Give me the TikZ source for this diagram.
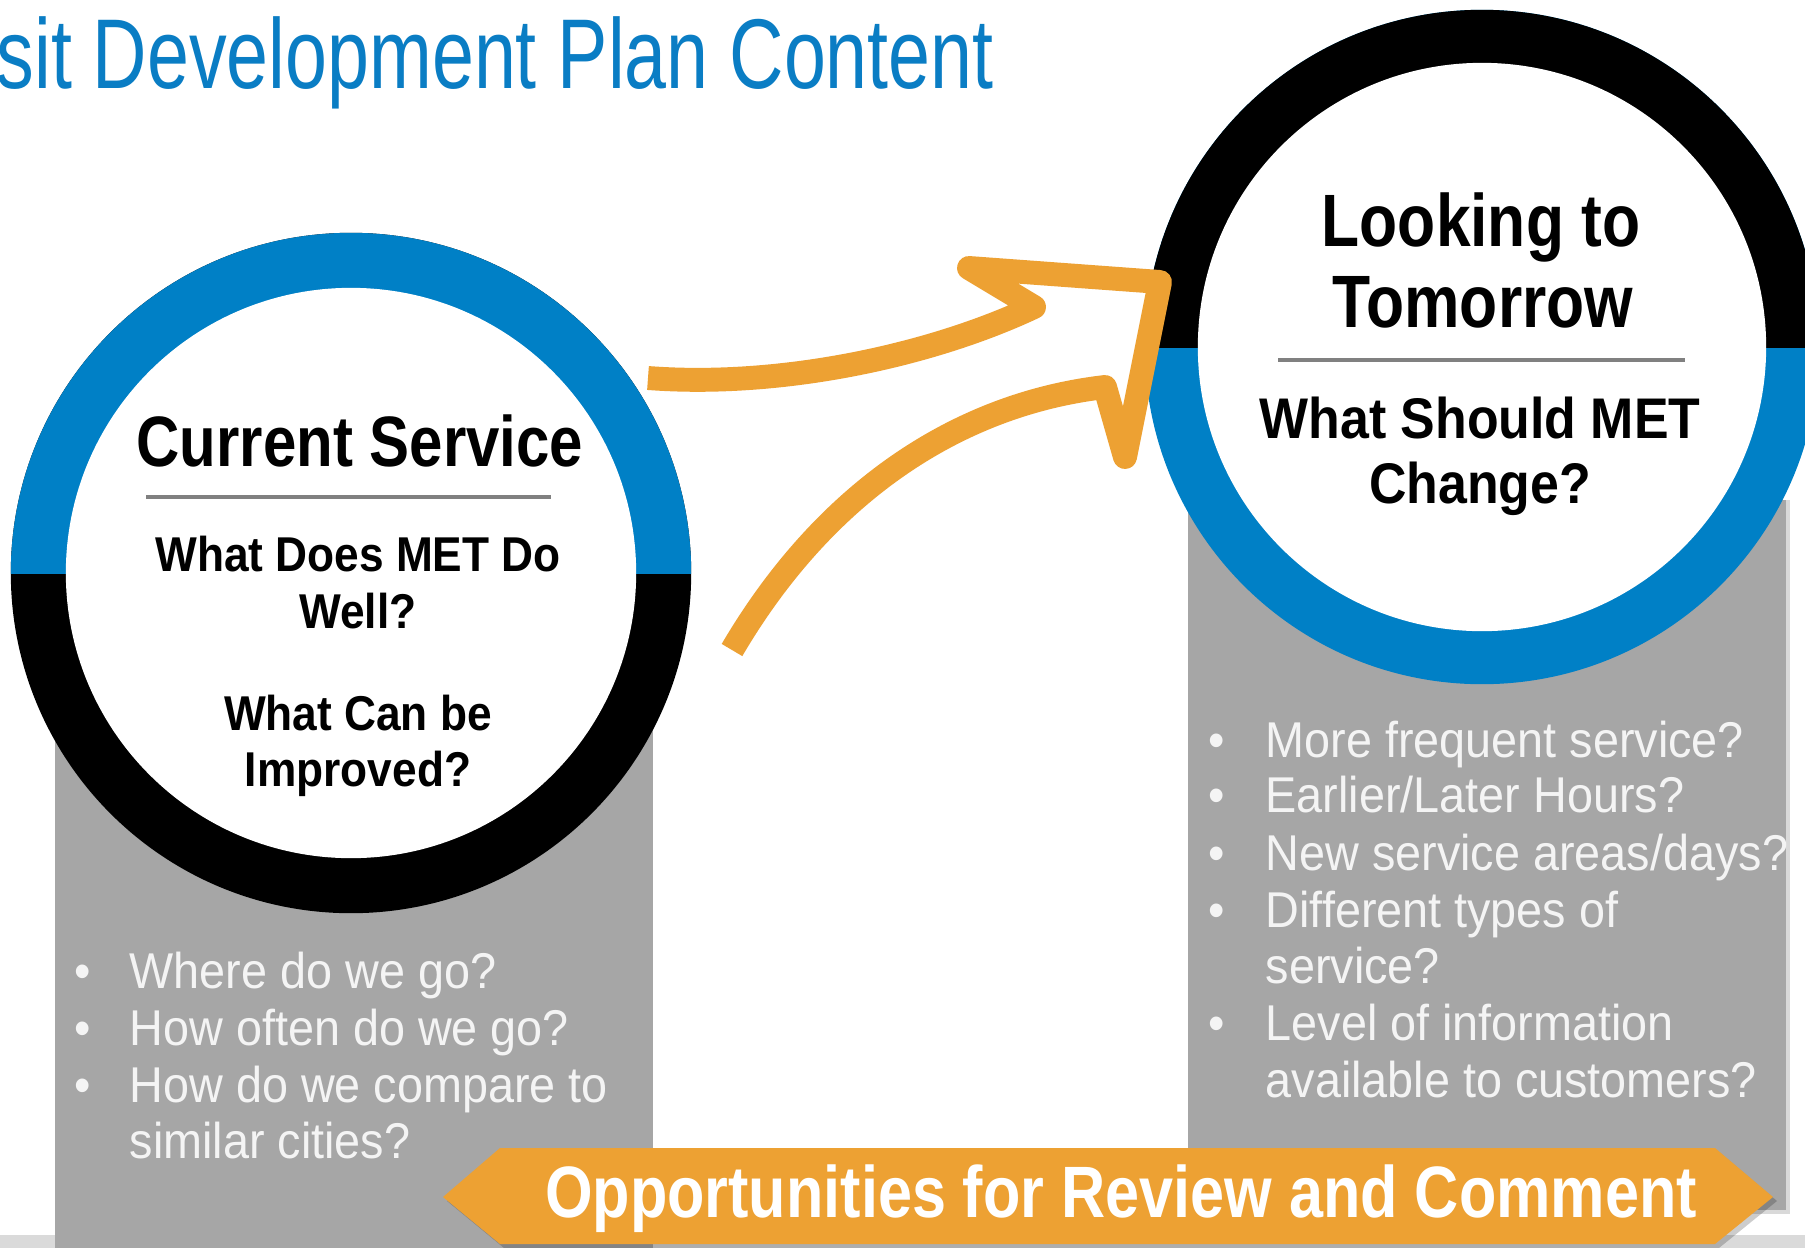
\documentclass[tikz,border=0pt]{standalone}
\usepackage{fontspec}
\newfontfamily\titlefont[FakeStretch=0.76]{Liberation Sans}
\newfontfamily\headfont[FakeStretch=0.84]{Liberation Sans}
\newfontfamily\subfont[FakeStretch=0.905]{Liberation Sans}
\newfontfamily\bulletfont[FakeStretch=0.93]{Liberation Sans}
\usetikzlibrary{positioning}

\definecolor{metblue}{HTML}{0080C6}
\definecolor{titleblue}{HTML}{0A7DC4}
\definecolor{arroworange}{HTML}{EDA133}
\definecolor{boxgray}{HTML}{A6A6A6}
\definecolor{rulegray}{HTML}{808080}
\definecolor{stripgray}{HTML}{DADADA}
\definecolor{bulletwhite}{HTML}{F4F4F4}

\tikzset{
  headtext/.style={font=\headfont\bfseries\fontsize{#1pt}{#1pt}\selectfont, anchor=base, inner sep=0pt},
  headtext/.default=20.3,
  subtext/.style={font=\subfont\bfseries\fontsize{#1pt}{#1pt}\selectfont, anchor=base, inner sep=0pt},
  subtext/.default=13.9,
  bullettext/.style={font=\bulletfont\fontsize{14.3pt}{16pt}\selectfont, text=bulletwhite, anchor=base west, inner sep=0pt},
  bulletmark/.style={bullettext, anchor=base},
  rule/.style={rulegray, line width=1.4pt},
  arrowline/.style={draw=arroworange, line width=6.8pt, line join=round},
}

\begin{document}
\begin{tikzpicture}[x=0.01cm, y=-0.01cm]
\useasboundingbox (0,0) rectangle (1805,1248);
\fill[white] (0,0) rectangle (1805,1248);

\coordinate (curc) at (351,573);
\coordinate (tomc) at (1482,347);

% title
\node[font=\titlefont\fontsize{28.2pt}{30pt}\selectfont, text=titleblue, anchor=base west, inner sep=0pt] (title) at (-4,88) {sit Development Plan Content};

% strip and panels
\fill[stripgray] (0,1235) rectangle (1805,1248);
\fill[black, opacity=0.15] (1191,500) rectangle (1790,1214);
\fill[boxgray] (55,700) rectangle (653,1248);
\fill[boxgray] (1188,500) rectangle (1786,1210);

% current service ring
\fill[black] (curc) circle[radius=3.4cm];
\begin{scope}
  \clip (0,0) rectangle (720,573);
  \fill[metblue] (curc) circle[radius=3.4cm];
\end{scope}
\fill[white] (curc) circle[radius=2.85cm];

% tomorrow ring
\fill[metblue] (tomc) circle[radius=3.37cm];
\begin{scope}
  \clip (1100,0) rectangle (1850,347);
  \fill[black] (tomc) circle[radius=3.37cm];
\end{scope}
\fill[white] (tomc) circle[radius=2.84cm];

% circle texts
\node[headtext] (curtitle) at (360,466) {Current Service};
\draw[rule] (146,497) -- (551,497);
\node[subtext] (curdo) at (358,571) {What Does MET Do};
\node[subtext] (curwell) at (358,628) {Well?};
\node[subtext] (curcan) at (358,730) {What Can be};
\node[subtext] (curimp) at (358,786) {Improved?};

\node[headtext=21.1] (tomlook) at (1481,246) {Looking to};
\node[headtext=21.1] (tomtom) at (1483,327) {Tomorrow};
\draw[rule] (1278,360) -- (1685,360);
\node[subtext=16.3] (tomshould) at (1480,438) {What Should MET};
\node[subtext=16.3] (tomchange) at (1480,503) {Change?};

% bullets
\foreach \yy/\txt in {988/{Where do we go?}, 1045/{How often do we go?}, 1102/{How do we compare to}}{
  \node[bulletmark] at (83,\yy) {•};
  \node[bullettext] at (129,\yy) {\txt};
}
\node[bullettext] (curlast) at (129,1158) {similar cities?};

\foreach \yy/\txt in {757/{More frequent service?}, 812/{Earlier/Later Hours?}, 870/{New service areas/days?}, 927/{Different types of}, 1040/{Level of information}}{
  \node[bulletmark] at (1217,\yy) {•};
  \node[bullettext] at (1265,\yy) {\txt};
}
\node[bullettext] (tomserv) at (1265,983) {service?};
\node[bullettext] (tomlast) at (1265,1097) {available to customers?};

% arrow
\coordinate (a1) at (648,378);
\coordinate (a2) at (1034,307);
\coordinate (a3) at (969,268);
\coordinate (a4) at (1160,282);
\coordinate (a5) at (1125,457);
\coordinate (a6) at (1105,387);
\coordinate (a7) at (732,650);
\draw[arrowline] (a1) .. controls (780,388) and (930,356) .. (a2) -- (a3) -- (a4) -- (a5) -- (a6) .. controls (950,405) and (820,500) .. (a7);

% banner
\fill[black, opacity=0.2] (447,1201) -- (504,1152) -- (1719,1152) -- (1777,1201) -- (1719,1248) -- (504,1248) -- cycle;
\fill[arroworange] (443,1197) -- (500,1148) -- (1715,1148) -- (1773,1197) -- (1715,1244) -- (500,1244) -- cycle;
\node[headtext=20.7, text=white] (banner) at (1121,1217) {Opportunities for Review and Comment};

\end{tikzpicture}
\end{document}
